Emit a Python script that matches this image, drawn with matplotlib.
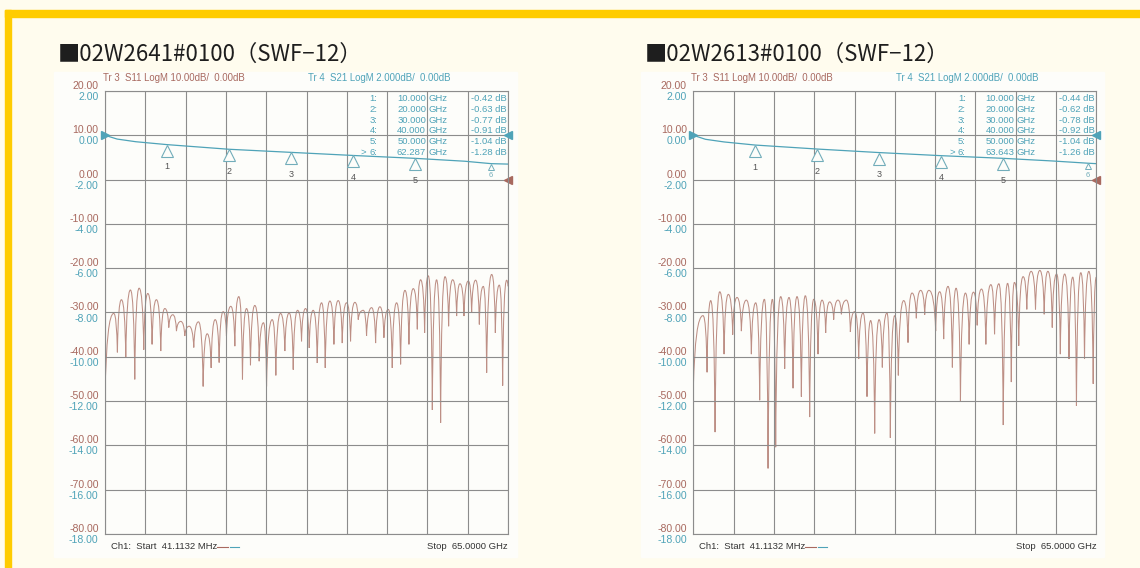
import matplotlib
matplotlib.use("Agg")
import matplotlib.pyplot as plt
from matplotlib.patches import Rectangle, PathPatch
from matplotlib.path import Path
from matplotlib.transforms import offset_copy

# values
titles = ["■02W2641#0100（SWF−12）", "■02W2613#0100（SWF−12）"]

s11_ticks = [20, 10, 0, -10, -20, -30, -40, -50, -60, -70, -80]
s21_ticks = [2, 0, -2, -4, -6, -8, -10, -12, -14, -16, -18]

# S11 return loss (dB), peaks and nulls of the ripple
s11_a_ghz = [0.04, 1.45, 2.04, 2.69, 3.39, 4.14, 4.84, 5.54, 6.29, 6.94, 7.63, 8.33, 9.03,
             9.68, 10.32, 10.97, 11.56, 12.26, 12.90, 13.60, 14.35, 15.11, 15.86, 16.51,
             17.15, 17.80, 18.44, 19.09, 19.62, 20.32, 20.97, 21.61, 22.20, 22.85, 23.49,
             24.19, 24.89, 25.59, 26.08, 26.99, 27.58, 28.33, 29.03, 29.73, 30.38, 31.08,
             31.72, 32.37, 32.96, 33.60, 34.25, 34.95, 35.54, 36.29, 36.94, 37.63, 38.28,
             38.98, 39.62, 40.32, 40.86, 41.67, 42.20, 43.01, 43.66, 44.35, 45.00, 45.70,
             46.34, 47.04, 47.69, 48.39, 49.03, 49.73, 50.38, 50.91, 51.56, 52.15, 52.80,
             53.49, 54.14, 54.84, 55.43, 56.08, 56.72, 57.26, 57.90, 58.60, 59.14, 59.78,
             60.38, 61.02, 61.56, 62.37, 62.96, 63.60, 64.14, 64.78, 65.0]
s11_a_db = [-48.5, -30.2, -39.0, -27.1, -40.2, -24.9, -45.1, -24.5, -38.4, -25.7, -37.2,
            -27.1, -38.7, -29.1, -33.4, -30.5, -34.2, -32.0, -35.3, -33.1, -37.9, -32.1,
            -46.7, -34.8, -42.5, -31.6, -41.3, -29.8, -35.3, -28.6, -37.6, -26.4, -45.1,
            -29.1, -41.9, -28.4, -41.0, -32.3, -46.7, -31.6, -44.2, -30.2, -38.7, -30.1,
            -42.9, -29.5, -36.5, -29.1, -38.0, -29.5, -41.4, -27.8, -42.5, -27.4, -37.2,
            -27.3, -36.9, -27.8, -36.5, -27.7, -31.6, -29.5, -35.3, -28.9, -36.9, -28.7,
            -35.7, -29.3, -42.5, -27.8, -41.7, -25.0, -37.2, -24.6, -33.8, -22.6, -34.6,
            -21.7, -52.0, -22.6, -54.9, -21.9, -33.1, -22.6, -30.8, -23.5, -30.8, -22.9,
            -30.1, -22.7, -32.7, -24.1, -43.6, -21.4, -34.6, -23.8, -46.5, -22.7, -24.1]

s11_b_ghz = [0.04, 1.61, 2.26, 2.85, 3.55, 4.30, 5.00, 5.69, 6.39, 7.09, 7.79, 8.60,
             9.40, 10.10, 10.74, 11.50, 12.09, 12.79, 13.32, 14.13, 14.77, 15.47, 16.12,
             16.76, 17.46, 18.10, 18.80, 19.45, 20.14, 20.79, 21.38, 22.02, 22.67, 23.37,
             23.91, 24.71, 25.36, 26.05, 26.70, 27.40, 28.04, 28.63, 29.28, 29.98, 30.51,
             31.26, 31.80, 32.50, 33.09, 33.95, 34.65, 35.29, 35.99, 36.69, 37.34, 38.03,
             39.11, 39.75, 40.4, 41.1, 41.8, 42.4, 43.1, 43.9, 44.5, 45.2, 45.8, 46.5, 47.2,
             48.0, 48.6, 49.3, 50.0, 50.7, 51.3, 51.8, 52.5, 53.2, 53.8, 54.5, 55.2, 55.9,
             56.6, 57.2, 57.9, 58.6, 59.2, 59.9, 60.6, 61.2, 61.8, 62.5, 63.1, 63.8, 64.5, 65.0]
s11_b_db = [-47.0, -30.7, -43.5, -27.3, -57.0, -25.3, -39.4, -25.9, -35.0, -26.6,
            -34.2, -27.2, -39.4, -27.8, -49.8, -27.0, -65.2, -27.0, -60.4, -26.4, -42.7,
            -26.6, -47.1, -26.4, -49.0, -26.2, -53.6, -27.0, -39.4, -27.2, -34.6, -27.6,
            -31.6, -27.2, -30.4, -27.2, -34.4, -29.8, -40.5, -30.1, -49.0, -31.8, -57.3,
            -31.6, -42.4, -30.1, -58.3, -30.7, -44.2, -27.3, -36.8, -25.6, -31.3, -25.0,
            -30.5, -25.0, -34.2, -25.3, -36.0, -24.1, -42.4, -24.5, -50.2, -25.6, -37.2,
            -25.4, -32.9, -24.7, -37.2, -23.7, -34.9, -23.5, -55.4, -23.4, -45.7, -23.2,
            -37.5, -21.9, -29.3, -20.7, -29.3, -20.5, -30.4, -20.7, -33.4, -21.3, -39.4,
            -21.3, -40.5, -22.0, -51.1, -21.0, -40.5, -20.7, -46.1, -22.0]

# S21 insertion loss (dB)
s21_a_ghz = [0.04, 2.0, 5.0, 10.0, 20.0, 30.0, 40.0, 50.0, 58.0, 62.287, 65.0]
s21_a_db = [0.0, -0.17, -0.29, -0.42, -0.63, -0.77, -0.91, -1.04, -1.17, -1.28, -1.30]
s21_b_ghz = [0.04, 2.0, 5.0, 10.0, 20.0, 30.0, 40.0, 50.0, 58.0, 63.643, 65.0]
s21_b_db = [0.0, -0.18, -0.30, -0.44, -0.62, -0.78, -0.92, -1.04, -1.16, -1.26, -1.28]

# marker table
mk_a_ghz = [10.000, 20.000, 30.000, 40.000, 50.000, 62.287]
mk_a_db = [-0.42, -0.63, -0.77, -0.91, -1.04, -1.28]
mk_b_ghz = [10.000, 20.000, 30.000, 40.000, 50.000, 63.643]
mk_b_db = [-0.44, -0.62, -0.78, -0.92, -1.04, -1.26]

BROWN = "#a8695f"
TRACE = "#bd8f85"
TEAL = "#4fa3b8"
MKR = "#72adba"
GRID = "#8c8c8c"
CREAM = "#fffcee"
PANEL = "#fdfdfa"

W, H = 1140, 568
plt.rcParams["font.family"] = ["Liberation Sans", "DejaVu Sans"]
fig = plt.figure(figsize=(W / 100, H / 100), dpi=100, facecolor=CREAM)


def px(x0, y0, w, h):
    return [x0 / W, 1 - (y0 + h) / H, w / W, h / H]


def ripple_path(freqs, vals):
    # rounded lobes between the read peaks, sharp cusps at the read nulls
    verts = [(freqs[0], vals[0])]
    codes = [Path.MOVETO]
    for i in range(1, len(freqs)):
        x0, y0, x1, y1 = freqs[i - 1], vals[i - 1], freqs[i], vals[i]
        if y1 > y0:
            ctrl = (x0 + 0.2 * (x1 - x0), y1)
        else:
            ctrl = (x0 + 0.8 * (x1 - x0), y0)
        verts += [ctrl, (x1, y1)]
        codes += [Path.CURVE3, Path.CURVE3]
    return Path(verts, codes)


# yellow frame
fig.patches.append(Rectangle((5 / W, 0), 6 / W, 1 - 10 / H, transform=fig.transFigure,
                             color="#ffcc00", zorder=-5))
fig.patches.append(Rectangle((5 / W, 1 - 17 / H), 1, 7 / H, transform=fig.transFigure,
                             color="#ffcc00", zorder=-5))


def draw_panel(bg_x, grid_x, title, s11_f, s11_v, s21_f, s21_v, mk_f, mk_v):
    fig.patches.append(Rectangle((bg_x / W, 1 - 557 / H), 463 / W, 485 / H,
                                 transform=fig.transFigure, color=PANEL, zorder=-5))
    fig.text((bg_x + 4) / W, 1 - 54 / H, title, fontsize=16, color="#1e1e1e",
             va="center", family=["Liberation Sans Narrow", "Noto Sans CJK JP"])

    ax = fig.add_axes(px(grid_x, 91, 403, 443))
    ax.set_zorder(2)
    ax.set_facecolor(PANEL)
    ax.set_xlim(0.0411, 65)
    ax.set_ylim(-80, 20)
    ax.set_yticks(s11_ticks)
    ax.set_xticks([0.0411 + i * (65 - 0.0411) / 10 for i in range(11)])
    ax.grid(True, color=GRID, lw=0.8)
    ax.tick_params(length=0, labelleft=False, labelbottom=False)
    for s in ax.spines.values():
        s.set_color(GRID)
        s.set_linewidth(0.8)

    ax2 = ax.twinx()
    ax2.set_ylim(-18, 2)
    ax2.set_yticks([])
    ax2.patch.set_visible(False)
    for s in ax2.spines.values():
        s.set_visible(False)

    ax.add_patch(PathPatch(ripple_path(s11_f, s11_v), fill=False, edgecolor=TRACE, lw=0.75))
    ax2.plot(s21_f, s21_v, color=TEAL, lw=0.9)

    # scale labels on the left
    tr_up = offset_copy(ax.get_yaxis_transform(), fig=fig, y=5, units="dots")
    tr_dn = offset_copy(ax2.get_yaxis_transform(), fig=fig, y=-6, units="dots")
    for v in s11_ticks:
        ax.text(-0.016, v, f"{v:.2f}", transform=tr_up, ha="right", va="center",
                fontsize=7.6, color=BROWN)
    for v in s21_ticks:
        ax2.text(-0.016, v, f"{v:.2f}", transform=tr_dn, ha="right", va="center",
                 fontsize=7.6, color=TEAL)

    # reference level arrows
    ax2.plot([0.0411], [0], marker=">", ms=6, color=TEAL, clip_on=False)
    ax2.plot([65], [0], marker="<", ms=6, color=TEAL, clip_on=False)
    ax.plot([65], [0], marker="<", ms=6, color=BROWN, clip_on=False)

    # header lines
    ax.text(-0.005, 1.018, "Tr 3  S11 LogM 10.00dB/  0.00dB", transform=ax.transAxes,
            fontsize=6.9, color=BROWN, va="bottom")
    ax.text(0.504, 1.018, "Tr 4  S21 LogM 2.000dB/  0.00dB", transform=ax.transAxes,
            fontsize=6.9, color=TEAL, va="bottom")

    # markers on S21
    tri = offset_copy(ax2.transData, fig=fig, y=-6, units="dots")
    below = offset_copy(ax2.transData, fig=fig, y=-22, units="dots")
    for i, (f, v) in enumerate(zip(mk_f, mk_v)):
        if i < 5:
            ax2.plot([f], [v], marker="^", ms=8.5, mfc=PANEL, mec=MKR, mew=0.8,
                     transform=tri)
            ax2.text(f, v, str(i + 1), transform=below, ha="center", va="center",
                     fontsize=6.5, color="#555555")
        else:
            ax2.plot([f], [v], marker="^", ms=5, mfc="none", mec=MKR, mew=0.7,
                     transform=offset_copy(ax2.transData, fig=fig, y=-3, units="dots"))
            ax2.text(f, v, str(i + 1), ha="center", va="center", fontsize=5.5, color=MKR,
                     transform=offset_copy(ax2.transData, fig=fig, y=-12, units="dots"))

    # marker readout table
    for i, (f, v) in enumerate(zip(mk_f, mk_v)):
        y = 18.35 - 2.45 * i
        ax.text(42.7, y, f"{i + 1}:", fontsize=6.8, color=TEAL, va="center")
        if i == 5:
            ax.text(41.3, y, ">", fontsize=6.8, color=TEAL, va="center")
        ax.text(51.8, y, f"{f:.3f}", fontsize=6.8, color=TEAL, va="center", ha="right")
        ax.text(52.2, y, "GHz", fontsize=6.8, color=TEAL, va="center")
        ax.text(64.8, y, f"{v:.2f} dB", fontsize=6.8, color=TEAL, va="center", ha="right")

    # footer
    ax.text(0.015, -0.029, "Ch1:  Start  41.1132 MHz", transform=ax.transAxes,
            fontsize=6.8, color="#333333", va="center")
    ax.plot([0.278, 0.305], [-0.029, -0.029], transform=ax.transAxes, color=BROWN,
            lw=0.8, clip_on=False)
    ax.plot([0.31, 0.333], [-0.029, -0.029], transform=ax.transAxes, color=TEAL,
            lw=0.8, clip_on=False)
    ax.text(1.0, -0.029, "Stop  65.0000 GHz", transform=ax.transAxes,
            fontsize=6.8, color="#333333", va="center", ha="right")


draw_panel(54, 105, titles[0], s11_a_ghz, s11_a_db, s21_a_ghz, s21_a_db, mk_a_ghz, mk_a_db)
draw_panel(641, 693.3, titles[1], s11_b_ghz, s11_b_db, s21_b_ghz, s21_b_db, mk_b_ghz, mk_b_db)

fig.savefig("out.png", dpi=100, facecolor=CREAM)
